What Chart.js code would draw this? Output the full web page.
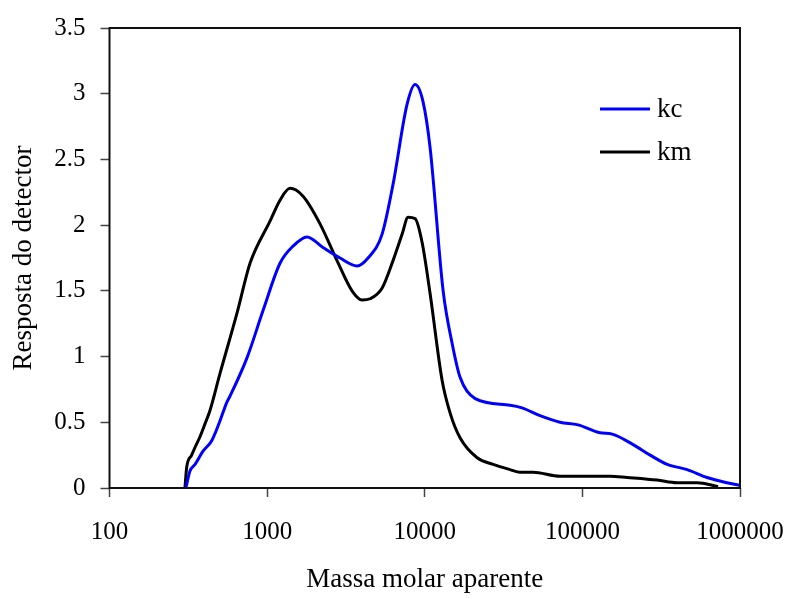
<!DOCTYPE html>
<html>
<head>
<meta charset="utf-8">
<script src="https://cdn.jsdelivr.net/npm/chart.js@4/dist/chart.umd.min.js"></script>
<style>
  html, body { margin: 0; padding: 0; background: #ffffff; }
  #wrap { width: 792px; height: 599px; }
</style>
</head>
<body>
<div id="wrap"><canvas id="c" width="792" height="599"></canvas></div>
<script>
// Molar-mass distribution (GPC) for two samples
const seriesNames = ['kc', 'km'];
const seriesColors = ['#0000ff', '#000000'];

const massKc = [305, 324, 349, 392, 445, 502, 554, 582, 745, 942, 1207, 1460, 1791, 2263, 2900,
  3718, 4367, 5358, 6292, 7727, 8682, 9750, 10810, 13080, 14920, 16780, 20900, 34780, 41420,
  53900, 72160, 93900, 129500, 154500, 209900, 269000, 345000, 462000, 618000, 828000, 1000000];
const kc = [0, 0.13, 0.18, 0.28, 0.36, 0.51, 0.65, 0.70, 0.99, 1.35, 1.71, 1.84, 1.91, 1.83, 1.75,
  1.69, 1.75, 1.93, 2.31, 2.92, 3.07, 2.94, 2.59, 1.50, 1.10, 0.84, 0.68, 0.63, 0.61,
  0.55, 0.50, 0.48, 0.42, 0.41, 0.33, 0.25, 0.18, 0.14, 0.08, 0.04, 0.02];

const massKm = [301, 309, 332, 349, 375, 404, 434, 502, 644, 779, 1043, 1207, 1397, 1690, 2166,
  2776, 3456, 4000, 4498, 5358, 6292, 7181, 7839, 8682, 9616, 10810, 12880, 14490, 16780,
  21500, 27150, 34780, 40250, 48650, 72160, 149900, 192300, 298000, 399000, 535000, 726000];
const km = [0, 0.16, 0.25, 0.31, 0.39, 0.49, 0.59, 0.87, 1.33, 1.71, 2.03, 2.19, 2.28, 2.22, 2.01,
  1.73, 1.50, 1.43, 1.44, 1.52, 1.73, 1.93, 2.06, 2.05, 1.87, 1.48, 0.82, 0.57, 0.38,
  0.23, 0.18, 0.14, 0.12, 0.12, 0.09, 0.09, 0.08, 0.06, 0.04, 0.04, 0.01];

const xTicks = [100, 1000, 10000, 100000, 1000000];
const yTicks = [0, 0.5, 1, 1.5, 2, 2.5, 3, 3.5];

const xTitle = 'Massa molar aparente';
const yTitle = 'Resposta do detector';

const SERIF = '"Liberation Serif", "Times New Roman", serif';

const toPoints = (xs, ys) => xs.map((x, i) => ({ x: x, y: ys[i] }));

// Frame around the plot area, axis titles and an inset legend
const decorations = {
  id: 'decorations',
  afterDraw(chart) {
    const { ctx, chartArea: a } = chart;
    ctx.save();
    ctx.strokeStyle = '#111';
    ctx.lineWidth = 2;
    ctx.strokeRect(a.left, a.top, a.right - a.left, a.bottom - a.top);

    ctx.fillStyle = '#000';
    ctx.font = '27px ' + SERIF;
    ctx.textAlign = 'center';
    ctx.textBaseline = 'middle';
    ctx.fillText(xTitle, (a.left + a.right) / 2, 580);

    ctx.save();
    ctx.translate(24, (a.top + a.bottom) / 2);
    ctx.rotate(-Math.PI / 2);
    ctx.fillText(yTitle, 0, 0);
    ctx.restore();

    // legend
    const legX = 600, legY = 109, step = 43;
    chart.data.datasets.forEach((ds, i) => {
      const y = legY + i * step;
      ctx.strokeStyle = ds.borderColor;
      ctx.lineWidth = 3;
      ctx.beginPath();
      ctx.moveTo(legX, y);
      ctx.lineTo(legX + 50, y);
      ctx.stroke();
      ctx.fillStyle = '#000';
      ctx.textAlign = 'left';
      ctx.textBaseline = 'middle';
      ctx.font = '27px ' + SERIF;
      ctx.fillText(ds.label, legX + 57, y + 1);
    });
    ctx.restore();
  }
};

new Chart(document.getElementById('c'), {
  type: 'line',
  data: {
    datasets: [
      { label: seriesNames[0], data: toPoints(massKc, kc), borderColor: seriesColors[0],
        borderWidth: 3, pointRadius: 0, cubicInterpolationMode: 'monotone', fill: false },
      { label: seriesNames[1], data: toPoints(massKm, km), borderColor: seriesColors[1],
        borderWidth: 3, pointRadius: 0, cubicInterpolationMode: 'monotone', fill: false }
    ]
  },
  options: {
    responsive: false,
    animation: false,
    devicePixelRatio: 1,
    layout: { padding: { top: 28, right: 52, left: 0, bottom: 0 } },
    plugins: { legend: { display: false }, tooltip: { enabled: false } },
    scales: {
      x: {
        type: 'logarithmic',
        min: 100,
        max: 1000000,
        afterBuildTicks: s => { s.ticks = xTicks.map(v => ({ value: v })); },
        afterFit: s => { s.height = 111; s.paddingLeft = 0; s.paddingRight = 0; },
        ticks: {
          autoSkip: false, maxRotation: 0, color: '#000', padding: 20,
          font: { family: SERIF, size: 25 },
          callback: v => String(v)
        },
        grid: { drawOnChartArea: false, drawTicks: true, tickLength: 9, color: '#444', tickWidth: 1.5 },
        border: { display: false }
      },
      y: {
        type: 'linear',
        min: 0,
        max: 3.5,
        afterBuildTicks: s => { s.ticks = yTicks.map(v => ({ value: v })); },
        afterFit: s => { s.width = 109.5; s.paddingTop = 0; s.paddingBottom = 0; },
        ticks: {
          color: '#000', padding: 15,
          font: { family: SERIF, size: 25 },
          callback: v => String(v)
        },
        grid: { drawOnChartArea: false, drawTicks: true, tickLength: 9, color: '#444', tickWidth: 1.5 },
        border: { display: false }
      }
    }
  },
  plugins: [decorations]
});
</script>
</body>
</html>
